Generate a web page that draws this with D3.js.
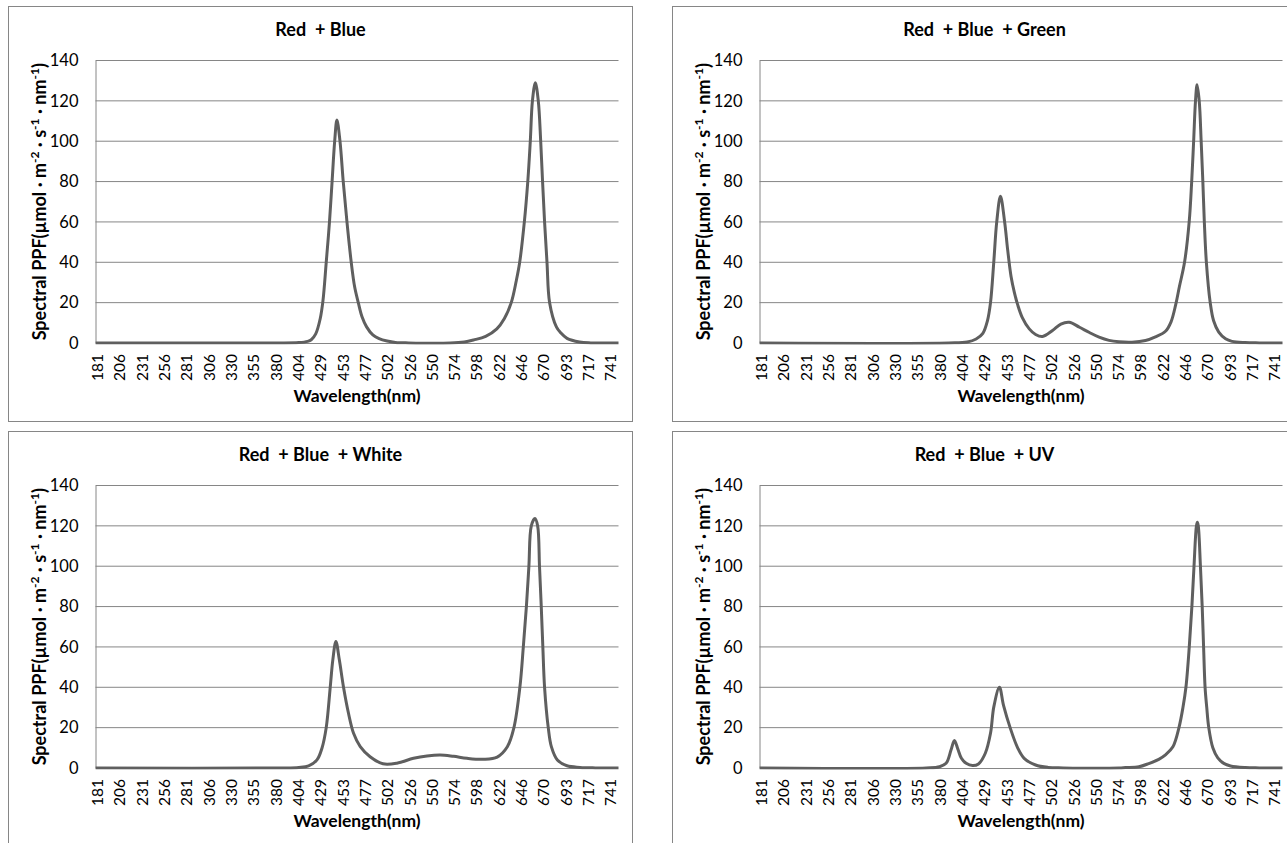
<!DOCTYPE html>
<html>
<head>
<meta charset="utf-8">
<script src="https://cdn.jsdelivr.net/npm/d3@7"></script>
<style>
  body { margin: 0; background: #fff; }
  text { font-family: Lato, "Open Sans", sans-serif; }
</style>
</head>
<body>
<svg id="chart" width="1287" height="843"></svg>
<script>
// category labels on the wavelength axis
const wavelengthTicks = [181, 206, 231, 256, 281, 306, 330, 355, 380, 404, 429, 453,
  477, 502, 526, 550, 574, 598, 622, 646, 670, 693, 717, 741];
const yTicks = [0, 20, 40, 60, 80, 100, 120, 140];

const titles = ["Red  + Blue", "Red  + Blue  + Green", "Red  + Blue  + White", "Red  + Blue  + UV"];

// [wavelength nm, spectral PPF]
const redBlue = [
  [179, 0], [380, 0], [405, 0.2], [415, 0.8], [419, 1.6], [424, 4.5], [429, 12], [432, 21],
  [435.5, 40], [439, 60], [441.8, 80], [444.6, 100], [447, 110.5], [450.3, 100], [453.8, 80],
  [457.8, 60], [462.4, 40], [466, 28], [470, 20], [474, 13], [479, 8], [486, 4], [493, 2.2],
  [502, 1], [511, 0.3], [525, 0.05], [570, 0], [585, 0.5], [595, 1.5], [608, 3.3], [620, 7],
  [628, 12], [635.5, 20], [641, 31], [644.6, 40], [649.6, 60], [653.3, 80], [656, 100],
  [658.3, 120], [661.4, 129], [664.6, 120], [667.2, 100], [669.2, 80], [671.3, 60], [673.8, 40],
  [676.5, 20], [683.5, 8], [688, 5], [694.5, 2.3], [708, 0.5], [720, 0.05], [751, 0]
];

const redBlueGreen = [
  [179, 0], [390, 0], [410, 0.5], [420, 2], [427.5, 4.8], [432.5, 11], [435.8, 20],
  [439.3, 40], [442.5, 60], [446.5, 72.7], [451, 60], [454.3, 46], [457.9, 33],
  [461.5, 25], [465, 19], [470, 12.6], [477.5, 7], [484.6, 4.2], [492.4, 3.2], [503.5, 6.2],
  [512.5, 9.4], [521.4, 10.3], [532.5, 7.8], [543.2, 5.2], [553.6, 2.9], [564.3, 1.3],
  [575, 0.6], [589, 0.4], [603.5, 1.2], [614.2, 3], [625, 5.8], [631, 10.5], [636, 19],
  [640, 28], [645.5, 40], [650.5, 60], [653.2, 80], [655.3, 100], [657.3, 120], [659, 128],
  [661.3, 120], [663.4, 100], [665.2, 80], [666.8, 60], [669, 40], [673, 20], [676.5, 11],
  [681.8, 5.4], [688.8, 2.1], [695.6, 0.8], [709.6, 0.2], [725, 0.05], [751, 0]
];

const redBlueWhite = [
  [179, 0], [390, 0], [405, 0.3], [416, 1.1], [425.4, 4], [430.9, 9.8], [435.5, 20],
  [439.8, 40], [442.6, 53.6], [445.9, 62.7], [449.6, 53.6], [454.1, 40], [459.5, 27],
  [464.9, 17.2], [472.1, 10.6], [482.9, 5.6], [497.4, 2.1], [512.5, 2.4], [530.4, 4.8],
  [544.8, 6], [559.1, 6.5], [573.5, 5.8], [587.9, 4.8], [605.7, 4.3], [620.4, 5.4],
  [631.3, 10.5], [638.4, 20], [644.8, 40], [648.5, 60], [651.8, 80], [654.5, 100], [657.1, 120],
  [661, 123.6], [663.9, 120], [665.9, 100], [667.8, 80], [669.5, 60], [671.3, 40], [675.1, 20],
  [678.3, 10.6], [684.5, 4], [694.5, 1.1], [708.5, 0.3], [725, 0.05], [751, 0]
];

const redBlueUV = [
  [179, 0], [365, 0], [380, 0.6], [387, 2.3], [392.4, 9], [396, 13.6], [399.6, 9.5],
  [403.5, 4.8], [408.8, 2.3], [416, 1.2], [422.6, 2], [430.2, 7.3], [435.8, 17.2],
  [439.4, 30.4], [445.4, 40], [449.8, 31], [456.9, 20], [465, 10], [472, 4.8], [484.6, 1.5],
  [498.5, 0.3], [515, 0.05], [575, 0], [582, 0.2], [596.4, 0.6], [607, 2.2], [617.8, 4.3],
  [625, 6.5], [633, 10.5], [639.5, 20], [643.8, 30], [647, 40], [650.6, 60], [653.4, 80], [655.7, 100],
  [658.3, 120], [659.3, 121.8], [660.3, 120], [662.6, 100], [664.5, 80], [666, 60], [667.6, 40],
  [669.4, 30], [671.5, 20], [675.7, 10], [680.8, 5], [687, 2.3], [694, 1], [710, 0.2], [725, 0.05],
  [751, 0]
];

const seriesList = [redBlue, redBlueGreen, redBlueWhite, redBlueUV];

const frames = [
  { x: 8.5, y: 6.5 }, { x: 672.5, y: 6.5 },
  { x: 8.5, y: 431.5 }, { x: 672.5, y: 431.5 }
];
const frameW = 624, frameH = 415;
const plotX = 87, plotY = 54, plotW = 523, plotH = 282.5;
const gridColor = "#868686";

const svg = d3.select("#chart");

// labels are evenly spaced (category axis), so map wavelengths piecewise
const idxPos = d3.scaleLinear().domain([-0.07, wavelengthTicks.length - 0.63]).range([0, plotW]);
const x = d3.scaleLinear()
  .domain(wavelengthTicks)
  .range(wavelengthTicks.map((d, i) => idxPos(i)));
const y = d3.scaleLinear().domain([0, 140]).range([plotH, 0]);

const line = d3.line()
  .x(d => x(d[0]))
  .y(d => y(d[1]))
  .curve(d3.curveCatmullRom.alpha(0.5));

svg.append("defs").append("clipPath").attr("id", "plotclip")
  .append("rect").attr("x", 0).attr("y", -4).attr("width", plotW).attr("height", plotH + 5.5);

frames.forEach((f, k) => {
  const g = svg.append("g").attr("transform", `translate(${f.x},${f.y})`);

  g.append("rect")
    .attr("width", frameW).attr("height", frameH)
    .attr("fill", "#fff").attr("stroke", gridColor).attr("stroke-width", 1);

  g.append("text")
    .attr("x", frameW / 2).attr("y", 29)
    .attr("text-anchor", "middle")
    .style("white-space", "pre")
    .attr("font-size", 18).attr("font-weight", "bold")
    .text(titles[k]);

  const p = g.append("g").attr("transform", `translate(${plotX},${plotY})`);

  // horizontal gridlines
  p.append("g").selectAll("line")
    .data(yTicks.filter(d => d > 0))
    .join("line")
    .attr("x1", 0).attr("x2", plotW)
    .attr("y1", d => y(d)).attr("y2", d => y(d))
    .attr("stroke", gridColor).attr("stroke-width", 1);

  const yAxis = p.append("g")
    .call(d3.axisLeft(y).tickValues(yTicks).tickSize(0).tickPadding(17));
  yAxis.select(".domain").attr("stroke", gridColor);
  yAxis.selectAll("text").attr("font-size", 16.5).attr("fill", "#000")
    .style("font-family", "Lato, sans-serif");

  const xAxis = p.append("g")
    .attr("transform", `translate(0,${plotH})`)
    .call(d3.axisBottom(x).tickValues(wavelengthTicks).tickSize(0).tickFormat(d3.format("d")));
  xAxis.select(".domain").attr("stroke", gridColor);
  xAxis.selectAll("text")
    .attr("transform", "rotate(-90)")
    .attr("x", -11).attr("y", 0).attr("dy", "0.36em")
    .attr("text-anchor", "end")
    .attr("font-size", 15.5).attr("fill", "#000")
    .style("font-family", "Lato, sans-serif");

  p.append("text")
    .attr("x", plotW / 2).attr("y", plotH + 59)
    .attr("text-anchor", "middle")
    .attr("font-size", 17.5).attr("font-weight", "bold")
    .text("Wavelength(nm)");

  const yl = p.append("text")
    .attr("transform", `translate(-49.5,${plotH / 2}) rotate(-90)`)
    .attr("text-anchor", "middle")
    .attr("font-size", 18).attr("font-weight", "bold");
  yl.append("tspan").text("Spectral PPF(\u00b5mol \u00b7 m");
  yl.append("tspan").attr("font-size", 12).attr("dy", -7).text("-2");
  yl.append("tspan").attr("dy", 7).text(" \u00b7 s");
  yl.append("tspan").attr("font-size", 12).attr("dy", -7).text("-1");
  yl.append("tspan").attr("dy", 7).text(" \u00b7 nm");
  yl.append("tspan").attr("font-size", 12).attr("dy", -7).text("-1");
  yl.append("tspan").attr("dy", 7).text(")");

  p.append("path")
    .datum(seriesList[k])
    .attr("clip-path", "url(#plotclip)")
    .attr("fill", "none")
    .attr("stroke", "#5f5f5f")
    .attr("stroke-width", 3)
    .attr("stroke-linejoin", "round")
    .attr("d", line);
});
</script>
</body>
</html>
